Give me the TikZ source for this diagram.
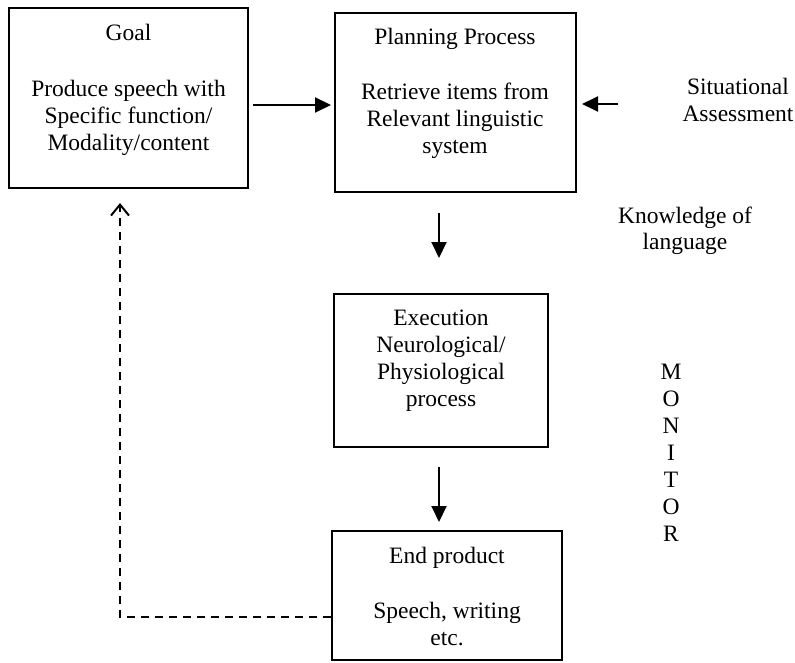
\documentclass[tikz,border=0pt]{standalone}
\usepackage{fontspec}
\setmainfont{Liberation Serif}
\usetikzlibrary{arrows.meta}
\begin{document}
\begin{tikzpicture}[x=1pt,y=-1pt,
  box/.style={draw,line width=2pt,inner sep=0pt},
  txt/.style={anchor=base,inner sep=0pt,font=\fontsize{23.5}{27}\selectfont},
  solidarrow/.style={line width=2pt,-{Triangle[length=16pt,width=15pt]}},
  dasharrow/.style={line width=2pt,dash pattern=on 8pt off 6pt,-{Straight Barb[length=11pt,width=18pt,line width=2pt]}}]
\useasboundingbox (0,0) rectangle (795,663);
% boxes
\node[box,minimum width=239pt,minimum height=180pt] (goal) at (128.5,98) {};
\node[box,minimum width=241pt,minimum height=179pt] (plan) at (455.5,102.5) {};
\node[box,minimum width=214pt,minimum height=153pt] (exec) at (441,370.5) {};
\node[box,minimum width=230pt,minimum height=129pt] (end) at (447,595.5) {};
% texts
\node[txt] (g1) at (128.5,41) {Goal};
\node[txt] (g2) at (128.5,97) {Produce speech with};
\node[txt] (g3) at (128.5,124) {Specific function/};
\node[txt] (g4) at (128.5,151) {Modality/content};
\node[txt] (p1) at (455,45) {Planning Process};
\node[txt] (p2) at (455,100) {Retrieve items from};
\node[txt] (p3) at (455,127) {Relevant linguistic};
\node[txt] (p4) at (455,154) {system};
\node[txt] (e1) at (441,325) {Execution};
\node[txt] (e2) at (441,352) {Neurological/};
\node[txt] (e3) at (441,379) {Physiological};
\node[txt] (e4) at (441,406) {process};
\node[txt] (n1) at (447,563) {End product};
\node[txt] (n2) at (447,618) {Speech, writing};
\node[txt] (n3) at (447,645) {etc.};
\node[txt] (s1) at (738,95) {Situational};
\node[txt] (s2) at (738,122) {Assessment};
\node[txt] (k1) at (685,223) {Knowledge of};
\node[txt] (k2) at (685,250) {language};
\foreach \l [count=\i] in {M,O,N,I,T,O,R}
  \node[txt] (m\i) at (671,352+27*\i) {\l};
% connectors
\coordinate (a1s) at (253,105);
\coordinate (a1e) at (331,105);
\draw[solidarrow] (a1s) -- (a1e);
\coordinate (a2s) at (618,104);
\coordinate (a2e) at (582,104);
\draw[solidarrow] (a2s) -- (a2e);
\coordinate (a3s) at (439,213);
\coordinate (a3e) at (439,258);
\draw[solidarrow] (a3s) -- (a3e);
\coordinate (a4s) at (439,467);
\coordinate (a4e) at (439,522);
\draw[solidarrow] (a4s) -- (a4e);
\coordinate (d1) at (end.west |- 0,617);
\coordinate (d2) at (120,617);
\coordinate (d3) at (120,203);
\draw[dasharrow] (d1) -- (d2) -- (d3);
\end{tikzpicture}
\end{document}
